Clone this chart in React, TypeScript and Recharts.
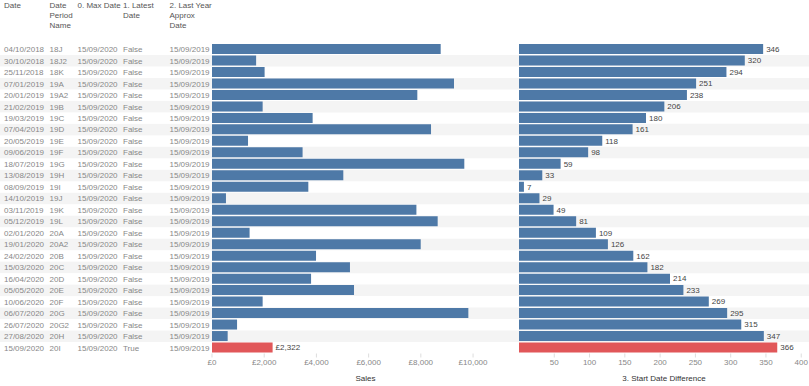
import { BarChart, Bar, XAxis, YAxis, Cell, LabelList, ReferenceArea } from 'recharts';

// one row per date period
const dates = [
  '04/10/2018', '30/10/2018', '25/11/2018', '07/01/2019', '20/01/2019', '21/02/2019', '19/03/2019',
  '07/04/2019', '20/05/2019', '09/06/2019', '18/07/2019', '13/08/2019', '08/09/2019', '14/10/2019',
  '03/11/2019', '05/12/2019', '02/01/2020', '19/01/2020', '24/02/2020', '15/03/2020', '16/04/2020',
  '05/05/2020', '10/06/2020', '06/07/2020', '26/07/2020', '27/08/2020', '15/09/2020',
];
const periods = [
  '18J', '18J2', '18K', '19A', '19A2', '19B', '19C', '19D', '19E', '19F', '19G', '19H', '19I', '19J',
  '19K', '19L', '20A', '20A2', '20B', '20C', '20D', '20E', '20F', '20G', '20G2', '20H', '20I',
];
const maxDates = [
  '15/09/2020', '15/09/2020', '15/09/2020', '15/09/2020', '15/09/2020', '15/09/2020', '15/09/2020',
  '15/09/2020', '15/09/2020', '15/09/2020', '15/09/2020', '15/09/2020', '15/09/2020', '15/09/2020',
  '15/09/2020', '15/09/2020', '15/09/2020', '15/09/2020', '15/09/2020', '15/09/2020', '15/09/2020',
  '15/09/2020', '15/09/2020', '15/09/2020', '15/09/2020', '15/09/2020', '15/09/2020',
];
const latest = [
  false, false, false, false, false, false, false, false, false, false, false, false, false, false,
  false, false, false, false, false, false, false, false, false, false, false, false, true,
];
const lastYearDates = [
  '15/09/2019', '15/09/2019', '15/09/2019', '15/09/2019', '15/09/2019', '15/09/2019', '15/09/2019',
  '15/09/2019', '15/09/2019', '15/09/2019', '15/09/2019', '15/09/2019', '15/09/2019', '15/09/2019',
  '15/09/2019', '15/09/2019', '15/09/2019', '15/09/2019', '15/09/2019', '15/09/2019', '15/09/2019',
  '15/09/2019', '15/09/2019', '15/09/2019', '15/09/2019', '15/09/2019', '15/09/2019',
];
const sales = [
  8760, 1690, 2015, 9270, 7865, 1940, 3855, 8390, 1380, 3470, 9665, 5030, 3690, 535,
  7830, 8645, 1440, 7995, 3985, 5285, 3795, 5440, 1940, 9820, 960, 600, 2322,
];
const startDiff = [
  346, 320, 294, 251, 238, 206, 180, 161, 118, 98, 59, 33, 7, 29,
  49, 81, 109, 126, 162, 182, 214, 233, 269, 295, 315, 347, 366,
];
const salesTicks = [0, 2000, 4000, 6000, 8000, 10000];
const diffTicks = [0, 50, 100, 150, 200, 250, 300, 350, 400];

const rows = periods.map((p, i) => ({
  period: p,
  sales: sales[i],
  diff: startDiff[i],
  latest: latest[i],
  salesLabel: latest[i] ? sales[i] : null,
}));

const W = 809;
const H = 386;
const TOP = 43.5;
const AXIS_H = 32.5;
const TABLE_W = 212;
const SPLIT = 519;
const ROW_H = (H - TOP - AXIS_H) / rows.length;

const BLUE = '#4e79a7';
const RED = '#e15759';
const STRIPE = '#f4f4f4';
const FONT = '"Liberation Sans", Arial, sans-serif';
const FS = 8;

const cols = [4, 49.5, 77.5, 123, 169.5];
const headers = [['Date'], ['Date', 'Period', 'Name'], ['0. Max Date'], ['1. Latest', 'Date'], ['2. Last Year', 'Approx', 'Date']];

const RowTick = (props: any) => {
  const { y, payload } = props;
  const i = periods.indexOf(payload.value);
  const cells = [dates[i], periods[i], maxDates[i], latest[i] ? 'True' : 'False', lastYearDates[i]];
  return (
    <g>
      {i % 2 === 1 && <rect x={0} y={y - ROW_H / 2} width={TABLE_W} height={ROW_H} fill={STRIPE} />}
      {cells.map((c, k) => (
        <text key={k} x={cols[k]} y={y} dy="0.36em" fontSize={FS} fill="#888" fontFamily={FONT}>
          {c}
        </text>
      ))}
    </g>
  );
};

const stripes = rows.map((r, i) =>
  i % 2 === 1 ? (
    <ReferenceArea key={r.period} y1={r.period} y2={r.period} fill={STRIPE} fillOpacity={1} stroke="none" />
  ) : null
);

const tickStyle = { fontSize: FS, fill: '#888', fontFamily: FONT };
const labelStyle = { fontSize: FS, fill: '#444', fontFamily: FONT };

export default function App() {
  return (
    <div style={{ position: 'absolute', left: 0, top: 0, width: W, height: H, background: '#fff', fontFamily: FONT }}>
      {headers.map((lines, k) => (
        <div key={k} style={{ position: 'absolute', left: cols[k], top: 1, fontSize: FS, lineHeight: '10px', color: '#555' }}>
          {lines.map((l) => (
            <div key={l}>{l}</div>
          ))}
        </div>
      ))}

      <div style={{ position: 'absolute', left: 0, top: 0 }}>
        <BarChart width={SPLIT} height={H} data={rows} layout="vertical" margin={{ top: TOP, right: 0, bottom: 0, left: 0 }} barCategoryGap={0.5}>
          {stripes}
          <YAxis type="category" dataKey="period" width={TABLE_W} axisLine={false} tickLine={false} interval={0} tick={<RowTick />} />
          <XAxis
            type="number"
            domain={[0, 11760]}
            ticks={salesTicks}
            height={AXIS_H}
            axisLine={false}
            tickSize={4}
            tickMargin={2}
            tickLine={{ stroke: '#ddd' }}
            tick={tickStyle}
            tickFormatter={(v: number) => '£' + v.toLocaleString('en-GB')}
            label={{ value: 'Sales', position: 'insideBottom', offset: 5, style: { ...labelStyle, fill: '#333' } }}
          />
          <Bar dataKey="sales" isAnimationActive={false}>
            {rows.map((r) => (
              <Cell key={r.period} fill={r.latest ? RED : BLUE} />
            ))}
            <LabelList dataKey="salesLabel" position="right" offset={3} style={labelStyle} formatter={(v: any) => (v == null ? '' : '£' + Number(v).toLocaleString('en-GB'))} />
          </Bar>
        </BarChart>
      </div>

      <div style={{ position: 'absolute', left: SPLIT, top: 0 }}>
        <BarChart width={W - SPLIT} height={H} data={rows} layout="vertical" margin={{ top: TOP, right: 0, bottom: 0, left: 0 }} barCategoryGap={0.5}>
          {stripes}
          <YAxis type="category" dataKey="period" hide />
          <XAxis
            type="number"
            domain={[0, 411]}
            ticks={diffTicks}
            height={AXIS_H}
            axisLine={false}
            tickSize={4}
            tickMargin={2}
            tickLine={{ stroke: '#ddd' }}
            tick={tickStyle}
            label={{ value: '3. Start Date Difference', position: 'insideBottom', offset: 5, style: { ...labelStyle, fill: '#333' } }}
          />
          <Bar dataKey="diff" isAnimationActive={false}>
            {rows.map((r) => (
              <Cell key={r.period} fill={r.latest ? RED : BLUE} />
            ))}
            <LabelList dataKey="diff" position="right" offset={3} style={labelStyle} />
          </Bar>
        </BarChart>
      </div>
    </div>
  );
}
